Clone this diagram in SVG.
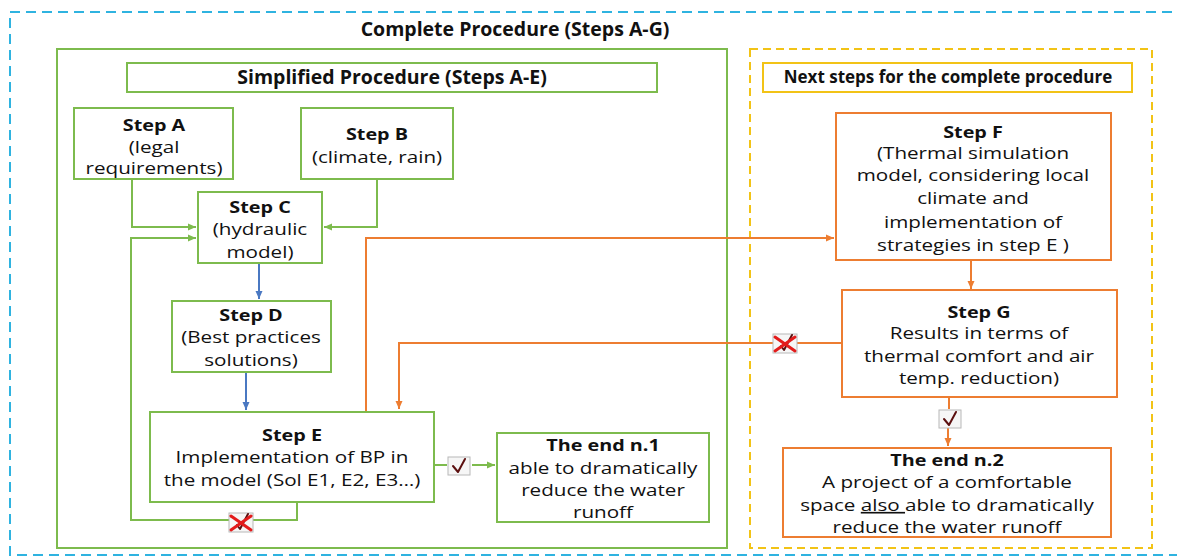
<svg xmlns="http://www.w3.org/2000/svg" width="1177" height="558" viewBox="0 0 1177 558">
<defs>
<style>
text{font-family:"Open Sans","DejaVu Sans",sans-serif;fill:#111;text-anchor:middle}
.t{font-size:16.5px}
.b{font-weight:bold}
.h{font-size:19.5px;font-weight:bold}
.gbox{fill:#fff;stroke:#7dbb4d;stroke-width:2}
.obox{fill:#fff;stroke:#ed7d31;stroke-width:2}
.g{fill:none;stroke:#7dbb4d;stroke-width:2}
.o{fill:none;stroke:#ed7d31;stroke-width:2}
.bl{fill:none;stroke:#4a78c2;stroke-width:2}
.chk{fill:#f6f6f6;stroke:#b8b8b8;stroke-width:1}
.mark{fill:none;stroke:#5c1010;stroke-width:2;stroke-linejoin:round;stroke-linecap:round}
.x{stroke:#e31b1b;stroke-width:3;stroke-linecap:round}
</style>
<marker id="ag" markerUnits="userSpaceOnUse" markerWidth="10" markerHeight="10" refX="8" refY="5" orient="auto"><path d="M0,1.5 L8,5 L0,8.5 Z" fill="#7dbb4d"/></marker>
<marker id="ao" markerUnits="userSpaceOnUse" markerWidth="10" markerHeight="10" refX="8" refY="5" orient="auto"><path d="M0,1.5 L8,5 L0,8.5 Z" fill="#ed7d31"/></marker>
<marker id="ab" markerUnits="userSpaceOnUse" markerWidth="10" markerHeight="10" refX="8" refY="5" orient="auto"><path d="M0,1.5 L8,5 L0,8.5 Z" fill="#4a78c2"/></marker>
<g id="tick"><rect class="chk" x="0" y="0" width="22" height="18"/><path class="mark" d="M5,9 L10,15 L17,2"/></g>
<g id="nok"><rect class="chk" x="0" y="0" width="24" height="19"/><path class="mark" d="M8,12 L11,16 L19,1"/><line class="x" x1="2" y1="3" x2="22" y2="17"/><line class="x" x1="2" y1="17" x2="22" y2="3"/></g>
</defs>
<rect width="1177" height="558" fill="#fff"/>

<g id="complete">
<rect x="10" y="12" width="1185" height="543" fill="none" stroke="#2fb3e0" stroke-width="2" stroke-dasharray="10,6"/>
<text class="h" x="515" y="36">Complete Procedure (Steps A-G)</text>
</g>
<g id="simplified">
<rect x="57" y="49" width="670" height="499" fill="none" stroke="#7dbb4d" stroke-width="2"/>
<rect x="127" y="63" width="530" height="29" class="gbox"/>
<text class="h" x="392" y="84">Simplified Procedure (Steps A-E)</text>
</g>
<g id="next">
<rect x="750" y="49" width="402" height="499" fill="none" stroke="#f2c316" stroke-width="2" stroke-dasharray="8,5"/>
<rect x="763" y="63" width="369" height="29" fill="#fff" stroke="#f2c316" stroke-width="2"/>
<text x="948" y="83" style="font-size:17px;font-weight:bold">Next steps for the complete procedure</text>
</g>

<g id="connectors">
<path class="g" d="M132,179 V227 H196" marker-end="url(#ag)"/>
<path class="g" d="M377,179 V227 H324" marker-end="url(#ag)"/>
<path class="bl" d="M259,263 V299" marker-end="url(#ab)"/>
<path class="bl" d="M246,372 V410" marker-end="url(#ab)"/>
<path class="g" d="M297,502 V520 H131 V238 H196" marker-end="url(#ag)"/>
<path class="g" d="M434,465 H447"/>
<path class="g" d="M472,465 H495" marker-end="url(#ag)"/>
<path class="o" d="M366,411 V238 H834" marker-end="url(#ao)"/>
<path class="o" d="M971,260 V289" marker-end="url(#ao)"/>
<path class="o" d="M842,343 H399 V409" marker-end="url(#ao)"/>
<path class="o" d="M949,397 V409"/>
<path class="o" d="M948,428 V446" marker-end="url(#ao)"/>
<use href="#nok" x="229" y="513"/>
<use href="#tick" x="448" y="457"/>
<use href="#nok" x="773" y="334"/>
<use href="#tick" x="939" y="410"/>
</g>

<g id="stepA">
<rect x="74" y="108" width="159" height="71" class="gbox"/>
<text class="t b" transform="translate(154,0) scale(1.2,1)" x="0" y="131">Step A</text>
<text class="t" transform="translate(154,0) scale(1.25,1)" x="0" y="153">(legal</text>
<text class="t" transform="translate(154,0) scale(1.25,1)" x="0" y="174">requirements)</text>
</g>
<g id="stepB">
<rect x="301" y="108" width="152" height="71" class="gbox"/>
<text class="t b" transform="translate(377,0) scale(1.2,1)" x="0" y="140">Step B</text>
<text class="t" transform="translate(377,0) scale(1.25,1)" x="0" y="163">(climate, rain)</text>
</g>
<g id="stepC">
<rect x="198" y="192" width="124" height="71" class="gbox"/>
<text class="t b" transform="translate(260,0) scale(1.2,1)" x="0" y="213">Step C</text>
<text class="t" transform="translate(260,0) scale(1.25,1)" x="0" y="235">(hydraulic</text>
<text class="t" transform="translate(260,0) scale(1.25,1)" x="0" y="258">model)</text>
</g>
<g id="stepD">
<rect x="172" y="301" width="159" height="71" class="gbox"/>
<text class="t b" transform="translate(251,0) scale(1.2,1)" x="0" y="321">Step D</text>
<text class="t" transform="translate(251,0) scale(1.25,1)" x="0" y="343">(Best practices</text>
<text class="t" transform="translate(251,0) scale(1.25,1)" x="0" y="366">solutions)</text>
</g>
<g id="stepE">
<rect x="150" y="412" width="284" height="90" class="gbox"/>
<text class="t b" transform="translate(292,0) scale(1.2,1)" x="0" y="441">Step E</text>
<text class="t" transform="translate(292,0) scale(1.25,1)" x="0" y="463">Implementation of BP in</text>
<text class="t" transform="translate(292,0) scale(1.25,1)" x="0" y="486">the model (Sol E1, E2, E3…)</text>
</g>
<g id="end1">
<rect x="497" y="433" width="212" height="89" class="gbox"/>
<text class="t b" transform="translate(603,0) scale(1.2,1)" x="0" y="451">The end n.1</text>
<text class="t" transform="translate(603,0) scale(1.25,1)" x="0" y="474">able to dramatically</text>
<text class="t" transform="translate(603,0) scale(1.25,1)" x="0" y="496">reduce the water</text>
<text class="t" transform="translate(603,0) scale(1.25,1)" x="0" y="518">runoff</text>
</g>
<g id="stepF">
<rect x="836" y="113" width="275" height="147" class="obox"/>
<text class="t b" transform="translate(973,0) scale(1.2,1)" x="0" y="138">Step F</text>
<text class="t" transform="translate(973,0) scale(1.25,1)" x="0" y="159">(Thermal simulation</text>
<text class="t" transform="translate(973,0) scale(1.25,1)" x="0" y="181">model, considering local</text>
<text class="t" transform="translate(973,0) scale(1.25,1)" x="0" y="204">climate and</text>
<text class="t" transform="translate(973,0) scale(1.25,1)" x="0" y="228">implementation of</text>
<text class="t" transform="translate(973,0) scale(1.25,1)" x="0" y="251">strategies in step E )</text>
</g>
<g id="stepG">
<rect x="842" y="290" width="275" height="107" class="obox"/>
<text class="t b" transform="translate(979,0) scale(1.2,1)" x="0" y="318">Step G</text>
<text class="t" transform="translate(979,0) scale(1.25,1)" x="0" y="339">Results in terms of</text>
<text class="t" transform="translate(979,0) scale(1.25,1)" x="0" y="362">thermal comfort and air</text>
<text class="t" transform="translate(979,0) scale(1.25,1)" x="0" y="384">temp. reduction)</text>
</g>
<g id="end2">
<rect x="783" y="448" width="328" height="89" class="obox"/>
<text class="t b" transform="translate(947,0) scale(1.2,1)" x="0" y="466">The end n.2</text>
<text class="t" transform="translate(947,0) scale(1.25,1)" x="0" y="488">A project of a comfortable</text>
<text class="t" transform="translate(947,0) scale(1.25,1)" x="0" y="511">space <tspan text-decoration="underline">also </tspan>able to dramatically</text>
<text class="t" transform="translate(947,0) scale(1.25,1)" x="0" y="533">reduce the water runoff</text>
</g>
</svg>
